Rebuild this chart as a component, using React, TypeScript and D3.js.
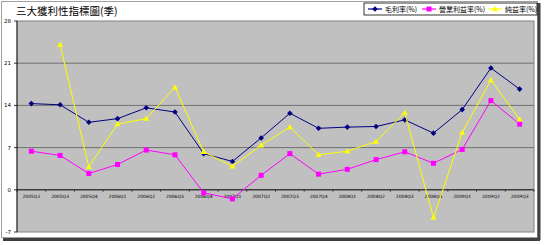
import React from "react";
import * as d3 from "d3";

const categories = ["2005Q2","2005Q3","2005Q4","2006Q1","2006Q2","2006Q3","2006Q4","2007Q1","2007Q2","2007Q3","2007Q4","2008Q1","2008Q2","2008Q3","2008Q4","2009Q1","2009Q2","2009Q3"];
const grossMargin = [14.3,14.1,11.2,11.8,13.6,12.9,6.0,4.7,8.6,12.7,10.2,10.4,10.5,11.6,9.4,13.3,20.2,16.7];
const operatingMargin = [6.4,5.7,2.7,4.2,6.6,5.8,-0.5,-1.5,2.4,6.0,2.6,3.4,5.0,6.3,4.4,6.7,14.8,10.9];
const netMargin: (number | null)[] = [null,24.1,3.8,10.9,11.8,17.0,6.3,3.9,7.4,10.4,5.8,6.4,8.0,12.8,-4.6,9.5,18.2,11.7];
const yTicks = [-7, 0, 7, 14, 21, 28];
const seriesNames = ["毛利率(%)", "營業利益率(%)", "純益率(%)"];

const W = 544, H = 245;
const plot = { l: 17, t: 21, r: 534, b: 232 };

function Marker({ kind, x, y, color }: { kind: string; x: number; y: number; color: string }) {
  if (kind === "diamond") {
    return <path d={`M${x},${y - 2.8}L${x + 2.8},${y}L${x},${y + 2.8}L${x - 2.8},${y}Z`} fill={color} />;
  }
  if (kind === "square") {
    return <rect x={x - 2.5} y={y - 2.5} width={5} height={5} fill={color} />;
  }
  return <path d={`M${x},${y - 3}L${x + 3},${y + 2.2}L${x - 3},${y + 2.2}Z`} fill={color} />;
}

export default function App() {
  const x = d3.scaleBand<string>().domain(categories).range([plot.l, plot.r]);
  const y = d3.scaleLinear().domain([-7, 28]).range([plot.b, plot.t]);
  const cx = (c: string) => (x(c) as number) + x.bandwidth() / 2;
  const line = d3
    .line<number | null>()
    .defined((d) => d !== null)
    .x((_, i) => cx(categories[i]))
    .y((d) => y(d as number));

  const series = [
    { name: seriesNames[0], data: grossMargin as (number | null)[], color: "#000080", kind: "diamond" },
    { name: seriesNames[1], data: operatingMargin as (number | null)[], color: "#FF00FF", kind: "square" },
    { name: seriesNames[2], data: netMargin, color: "#FFFF00", kind: "triangle" },
  ];

  const font = "'Noto Sans CJK TC', 'DejaVu Sans', sans-serif";
  const legendX = 364, legendY = 3;
  const legendItems = [
    { x: legendX + 4, w: 52 },
    { x: legendX + 58, w: 64 },
    { x: legendX + 124, w: 52 },
  ];

  return (
    <svg width={W} height={H} style={{ position: "absolute", left: 0, top: 0 }}>
      <rect x={0} y={0} width={W} height={H} fill="#ffffff" />
      {/* frame */}
      <rect x={1.5} y={1.5} width={536} height={236} fill="#ffffff" stroke="#a0a0a0" strokeWidth={1} />
      <line x1={539} y1={3} x2={539} y2={240} stroke="#404040" strokeWidth={3} />
      <line x1={3} y1={239.5} x2={540} y2={239.5} stroke="#404040" strokeWidth={3} />
      {/* title */}
      <text x={16} y={15} fontSize={10.5} fontFamily={font} fill="#000">三大獲利性指標圖(季)</text>
      {/* plot area */}
      <rect x={plot.l} y={plot.t} width={plot.r - plot.l} height={plot.b - plot.t} fill="#c0c0c0" stroke="#808080" strokeWidth={1} />
      {yTicks.map((t) => (
        <g key={t}>
          {t !== 28 && t !== -7 && (
            <line x1={plot.l} x2={plot.r} y1={y(t)} y2={y(t)} stroke="#707070" strokeWidth={1} />
          )}
          <line x1={plot.l - 3} x2={plot.l} y1={y(t)} y2={y(t)} stroke="#000" strokeWidth={0.8} />
          <text x={plot.l - 6} y={y(t) + 2} fontSize={5.5} textAnchor="end" fontFamily="'DejaVu Sans', sans-serif" fill="#000">{t}</text>
        </g>
      ))}
      <line x1={plot.l} x2={plot.l} y1={plot.t} y2={plot.b} stroke="#000" strokeWidth={0.8} />
      <line x1={plot.l} x2={plot.r} y1={y(0)} y2={y(0)} stroke="#000" strokeWidth={0.8} />
      {categories.map((c, i) => (
        <g key={c}>
          <line x1={(x(c) as number) + x.bandwidth()} x2={(x(c) as number) + x.bandwidth()} y1={y(0)} y2={y(0) + 2} stroke="#000" strokeWidth={0.6} />
          {i === 0 && <line x1={x(c) as number} x2={x(c) as number} y1={y(0)} y2={y(0) + 2} stroke="#000" strokeWidth={0.6} />}
          <text x={cx(c)} y={y(0) + 8} fontSize={4.5} textAnchor="middle" fontFamily="'DejaVu Sans', sans-serif" fill="#000">{c}</text>
        </g>
      ))}
      {series.map((s) => (
        <g key={s.name}>
          <path d={line(s.data) || ""} fill="none" stroke={s.color} strokeWidth={1} />
          {s.data.map((d, i) =>
            d === null ? null : <Marker key={i} kind={s.kind} x={cx(categories[i])} y={y(d)} color={s.color} />
          )}
        </g>
      ))}
      {/* legend */}
      <rect x={legendX} y={legendY} width={173} height={12} fill="#ffffff" stroke="#000" strokeWidth={0.8} />
      {series.map((s, i) => (
        <g key={s.name}>
          <line x1={legendItems[i].x} x2={legendItems[i].x + 14} y1={legendY + 6} y2={legendY + 6} stroke={s.color} strokeWidth={1.2} />
          <Marker kind={s.kind} x={legendItems[i].x + 7} y={legendY + 6} color={s.color} />
          <text x={legendItems[i].x + 17} y={legendY + 9} fontSize={7} fontFamily={font} fill="#000">{s.name}</text>
        </g>
      ))}
    </svg>
  );
}
